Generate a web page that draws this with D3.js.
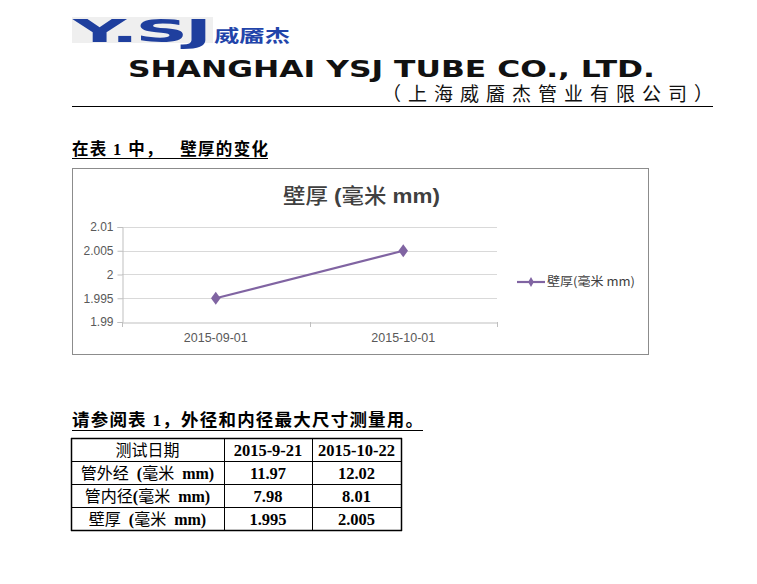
<!DOCTYPE html>
<html><head><meta charset="utf-8">
<script src="https://cdn.jsdelivr.net/npm/d3@7"></script>
<style>body{margin:0;background:#fff}svg{display:block}</style>
</head><body><svg id="c" width="757" height="584"></svg>
<script>
const categories = ["2015-09-01", "2015-10-01"];
const values = [1.995, 2.005];
const yTicks = [1.99, 1.995, 2, 2.005, 2.01];
const yTickLabels = ["1.99", "1.995", "2", "2.005", "2.01"];
const seriesName = "壁厚(毫米 mm)";
const tableHeader = ["测试日期", "2015-9-21", "2015-10-22"];
const tableRowLabels = ["管外经  (毫米  mm)", "管内径(毫米  mm)", "壁厚  (毫米  mm)"];
const tableCol1 = ["11.97", "7.98", "1.995"];
const tableCol2 = ["12.02", "8.01", "2.005"];

const svg = d3.select("#c");
const CJK = "'Noto Sans CJK SC', sans-serif";
const SERIF = "'Liberation Serif', 'Noto Sans CJK SC', serif";

function mixed(sel, str, latinFont, cjkWeight, latinWeight){
  const parts = str.match(/[\u3000-\u9fff\uff00-\uffef]+|[^\u3000-\u9fff\uff00-\uffef]+/g);
  parts.forEach(p=>{
    const cjk = /[\u3000-\u9fff\uff00-\uffef]/.test(p);
    sel.append("tspan").attr("font-family", cjk ? CJK : latinFont)
      .attr("font-weight", cjk ? cjkWeight : latinWeight).text(p);
  });
  return sel;
}

// Logo
svg.append("rect").attr("x",72).attr("y",17).attr("width",141).attr("height",26).attr("fill","#efefef");
svg.append("text").attr("x",0).attr("y",0).attr("transform","translate(73,42) scale(2.3,1)")
  .attr("font-family","'DejaVu Sans'").attr("font-weight","bold").attr("font-size",32)
  .attr("fill","#1f3f9e").attr("letter-spacing",-1.5).text("Y.SJ");
svg.append("text").attr("x",214).attr("y",42).attr("font-family",CJK).attr("font-weight","bold")
  .attr("font-size",17).attr("fill","#2244aa").attr("textLength",76).attr("lengthAdjust","spacingAndGlyphs").text("威靥杰");

svg.append("text").attr("x",128).attr("y",77)
  .attr("font-family","'DejaVu Sans'").attr("font-weight","bold").attr("font-size",23)
  .attr("textLength",527).attr("lengthAdjust","spacingAndGlyphs").attr("fill","#111").text("SHANGHAI YSJ TUBE CO., LTD.");
svg.append("text").attr("x",382).attr("y",101)
  .attr("font-family",CJK).attr("font-size",19).attr("fill","#111")
  .attr("textLength",331).attr("lengthAdjust","spacing")
  .text("（上海威靥杰管业有限公司）");
svg.append("line").attr("x1",72).attr("x2",713).attr("y1",106.5).attr("y2",106.5).attr("stroke","#000").attr("stroke-width",1);

// Heading 1
const h1 = svg.append("text").attr("x",72).attr("y",155).attr("font-size",16.5).attr("fill","#000")
  .attr("textLength",196).attr("lengthAdjust","spacing").style("white-space","pre");
mixed(h1, "在表 1 中，   壁厚的变化", SERIF, 600, "bold");
svg.append("line").attr("x1",72).attr("x2",268).attr("y1",158.5).attr("y2",158.5).attr("stroke","#000").attr("stroke-width",1.2);

// Chart box
svg.append("rect").attr("x",72.5).attr("y",168.5).attr("width",576).attr("height",186)
  .attr("fill","#fff").attr("stroke","#8c8c8c").attr("stroke-width",1);
const title = svg.append("text").attr("x",283).attr("y",203)
  .attr("font-size",21).attr("fill","#404040").attr("textLength",157).attr("lengthAdjust","spacingAndGlyphs");
mixed(title, seriesName.replace("(", " ("), "'Liberation Sans', sans-serif", 500, "bold");

const x = d3.scaleBand().domain(categories).range([122, 497]);
const y = d3.scaleLinear().domain([1.99, 2.01]).range([322, 227]);

const g = svg.append("g");
g.selectAll("line.grid").data(yTicks.slice(1)).join("line").attr("class","grid")
  .attr("x1",122).attr("x2",497).attr("y1",d=>Math.round(y(d))+0.5).attr("y2",d=>Math.round(y(d))+0.5)
  .attr("stroke","#d9d9d9");

const yAxis = g.append("g").attr("transform","translate(122.5,0)")
  .call(d3.axisLeft(y).tickValues(yTicks).tickFormat((d,i)=>yTickLabels[i]).tickSize(5).tickPadding(4));
yAxis.select(".domain").attr("stroke","#bfbfbf");
yAxis.selectAll(".tick line").attr("stroke","#bfbfbf");
yAxis.selectAll("text").attr("font-family","'Liberation Sans', sans-serif").attr("font-size",12).attr("fill","#595959");

const xAxis = g.append("g").attr("transform","translate(0,322.5)")
  .call(d3.axisBottom(x).tickSize(0).tickPadding(11));
xAxis.select(".domain").attr("stroke","#bfbfbf");
xAxis.selectAll("text").attr("font-family","'Liberation Sans', sans-serif").attr("font-size",12.5).attr("fill","#595959");
const bounds = [122, ...categories.slice(1).map(c=>x(c)), 497];
g.selectAll("line.xt").data(bounds).join("line").attr("class","xt")
  .attr("x1",d=>Math.round(d)+0.5).attr("x2",d=>Math.round(d)+0.5).attr("y1",322).attr("y2",327).attr("stroke","#bfbfbf");

const color = "#8064a2";
const line = d3.line().x((d,i)=>x(categories[i])+x.bandwidth()/2).y(d=>y(d));
g.append("path").datum(values).attr("d",line).attr("fill","none").attr("stroke",color).attr("stroke-width",2.2);
const diamond = d3.symbol().type(d3.symbolDiamond).size(50);
g.selectAll("path.pt").data(values).join("path").attr("class","pt").attr("d",diamond)
  .attr("transform",(d,i)=>`translate(${x(categories[i])+x.bandwidth()/2},${y(d)}) scale(1.25,1)`).attr("fill",color);

// Legend
svg.append("line").attr("x1",517).attr("x2",545).attr("y1",282).attr("y2",282).attr("stroke",color).attr("stroke-width",2.2);
svg.append("path").attr("d",d3.symbol().type(d3.symbolDiamond).size(28)).attr("transform","translate(531,282)").attr("fill",color);
svg.append("text").attr("x",547).attr("y",286).attr("font-family",CJK).attr("font-size",12)
  .attr("textLength",88).attr("lengthAdjust","spacingAndGlyphs").attr("fill","#404040").text(seriesName);

// Heading 2
const h2 = svg.append("text").attr("x",72).attr("y",426).attr("font-size",17.5).attr("fill","#000")
  .attr("textLength",351).attr("lengthAdjust","spacing").style("white-space","pre");
mixed(h2, "请参阅表 1，外径和内径最大尺寸测量用。", SERIF, 600, "bold");
svg.append("line").attr("x1",72).attr("x2",423).attr("y1",430.5).attr("y2",430.5).attr("stroke","#000").attr("stroke-width",1.2);

// Table
const colX = [71, 224, 312, 401];
const rowY = [438, 461, 484, 507, 530];
const allRows = [tableHeader, ...tableRowLabels.map((l,i)=>[l, tableCol1[i], tableCol2[i]])];
const tg = svg.append("g");
colX.forEach((cx,i)=>tg.append("line").attr("x1",cx+0.5).attr("x2",cx+0.5).attr("y1",rowY[0]).attr("y2",rowY[4]+1)
  .attr("stroke","#000").attr("stroke-width",(i===0||i===3)?1.5:1));
rowY.forEach((ry,i)=>tg.append("line").attr("x1",colX[0]).attr("x2",colX[3]+1).attr("y1",ry+0.5).attr("y2",ry+0.5)
  .attr("stroke","#000").attr("stroke-width",(i===0||i===4)?1.5:1));
allRows.forEach((row,ri)=>{
  row.forEach((cell,ci)=>{
    const t = tg.append("text").attr("x",(colX[ci]+colX[ci+1])/2).attr("y",rowY[ri]+17.5)
      .attr("text-anchor","middle").attr("font-size",16).attr("fill","#000").style("white-space","pre");
    if (ci===0) {
      mixed(t, cell, SERIF, 400, "bold");
    } else {
      t.attr("font-family",SERIF).attr("font-weight","bold").attr("font-size",16.5).text(cell);
    }
  });
});
</script></body></html>
